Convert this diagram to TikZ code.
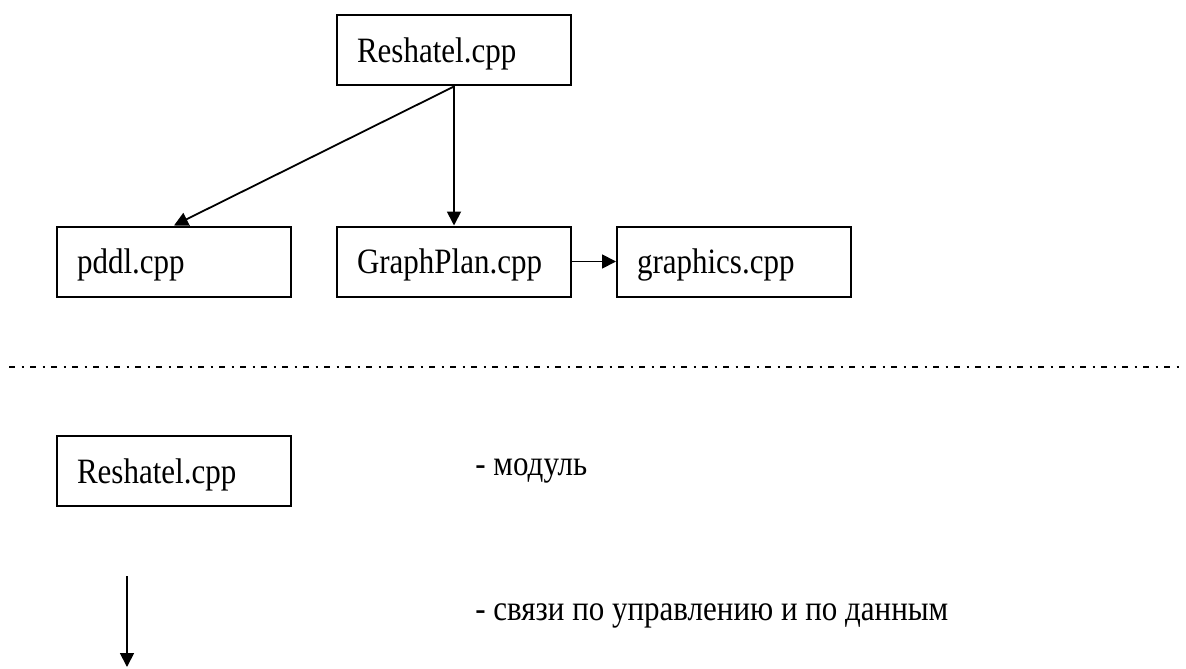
\documentclass[tikz,border=0pt]{standalone}
\usepackage{fontspec}
\setmainfont{Liberation Serif}
\usetikzlibrary{arrows.meta}

% text set slightly taller than its width
\newcommand{\tallt}[1]{\scalebox{1}[1.15]{#1}}

\tikzset{
  module/.style={draw, line width=1pt, rectangle,
    minimum width=117pt, minimum height=35pt,
    inner xsep=10pt, inner ysep=0pt, text width=97pt, align=left,
    text height=12pt, text depth=0pt, font=\fontsize{15.5pt}{18pt}\selectfont},
  link/.style={line width=0.9pt, -{Triangle[length=7pt, width=7pt]}},
  note/.style={anchor=base west, inner sep=0pt, font=\fontsize{15.5pt}{18pt}\selectfont},
  divider/.style={line width=1pt, dash pattern=on 3pt off 3.25pt on 1pt off 3.25pt}
}

\begin{document}
\begin{tikzpicture}[x=0.5pt, y=-0.5pt]
  \useasboundingbox (0,0) rectangle (1186,668);

  % module structure
  \node[module] (res)   at (454,50.5)  {\tallt{Reshatel.cpp}};
  \node[module] (pddl)  at (174,261.5) {\tallt{pddl.cpp}};
  \node[module] (gplan) at (454,261.5) {\tallt{GraphPlan.cpp}};
  \node[module] (gfx)   at (734,261.5) {\tallt{graphics.cpp}};

  \draw[link] (res.south) -- (pddl.north);
  \draw[link] (res.south) -- (gplan.north);
  \draw[link] (gplan.east) -- (gfx.west);

  % separator
  \coordinate (sepL) at (9,367);
  \coordinate (sepR) at (1182,367);
  \draw[divider] (sepL) -- (sepR);

  % legend
  \node[module] (legbox) at (174,471) {\tallt{Reshatel.cpp}};
  \node[note] (legmod) at (475,475) {\tallt{- модуль}};

  \coordinate (legA) at (127,576);
  \coordinate (legB) at (127,667);
  \draw[link] (legA) -- (legB);
  \node[note] (leglink) at (475,620) {\tallt{- связи по управлению и по данным}};
\end{tikzpicture}
\end{document}
